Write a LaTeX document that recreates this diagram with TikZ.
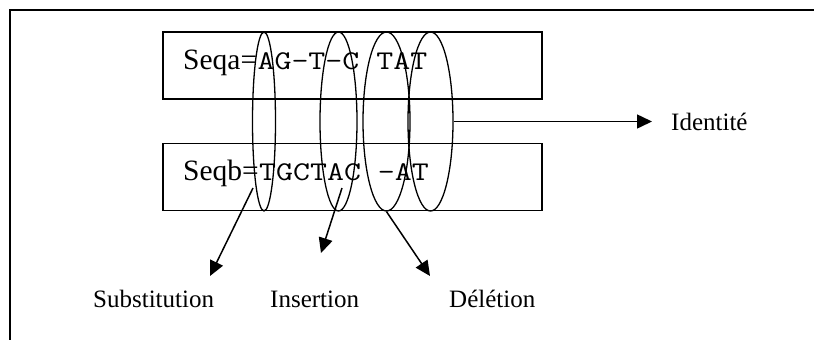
\documentclass[tikz,border=0pt]{standalone}
\usepackage{fontspec}
\setmainfont{Liberation Serif}
\usetikzlibrary{arrows.meta,shapes.geometric}

\begin{document}
\begin{tikzpicture}[x=1pt,y=-1pt,>={Triangle[length=15pt,width=14pt]},
  seqbox/.style={draw,rectangle,line width=1.5pt,minimum width=379pt,minimum height=67pt,inner sep=0pt},
  loop/.style={draw,ellipse,line width=1.3pt,minimum height=179pt,inner sep=0pt},
  seqtext/.style={inner sep=0pt,anchor=base west,font=\fontsize{29.5}{34}\selectfont},
  seqcode/.style={inner sep=0pt,anchor=base west,font=\ttfamily\fontsize{27}{30}\selectfont},
  lbl/.style={inner sep=0pt,anchor=base west,font=\fontsize{25}{30}\selectfont},
  arr/.style={line width=1.5pt,->}]
\useasboundingbox (0,0) rectangle (814,340);
% open frame
\draw [line width=2pt] (10,340) -- (10,10) -- (814,10);

\node [seqbox] (boxa) at (352.5,65.5) {};
\node [seqbox] (boxb) at (352.5,177) {};
\node [seqtext] (seqa) at (183,69) {Seqa=};
\node [seqcode] (codea) at (seqa.base east) {\scalebox{1.22}[1]{AG-T-C TAT}};
\node [seqtext] (seqb) at (183,180) {Seqb=};
\node [seqcode] (codeb) at (seqb.base east) {\scalebox{1.22}[1]{TGCTAC -AT}};

\foreach \x/\w/\n in {264/23/1,338.5/37/2,386.5/47/3,430.5/45/4}
  \node [loop,minimum width=\w pt] (e\n) at (\x,121.5) {};

\node [lbl] (idt) at (671,130) {Identité};
\node [lbl] (sub) at (93,307) {Substitution};
\node [lbl] (ins) at (270,307) {Insertion};
\node [lbl] (del) at (449,307) {Délétion};

\coordinate (subtip) at (210,276);
\coordinate (instip) at (321,253);
\coordinate (deltip) at (430,276);

\draw [arr,shorten >=19pt] (e4.east) -- (e4.east -| idt.west);
\draw [arr] ([shift={(-11,66.5)}]e1.center) -- (subtip);
\draw [arr] ([shift={(3.5,66.5)}]e2.center) -- (instip);
\draw [arr] (e3.south) -- (deltip);

\end{tikzpicture}
\end{document}
